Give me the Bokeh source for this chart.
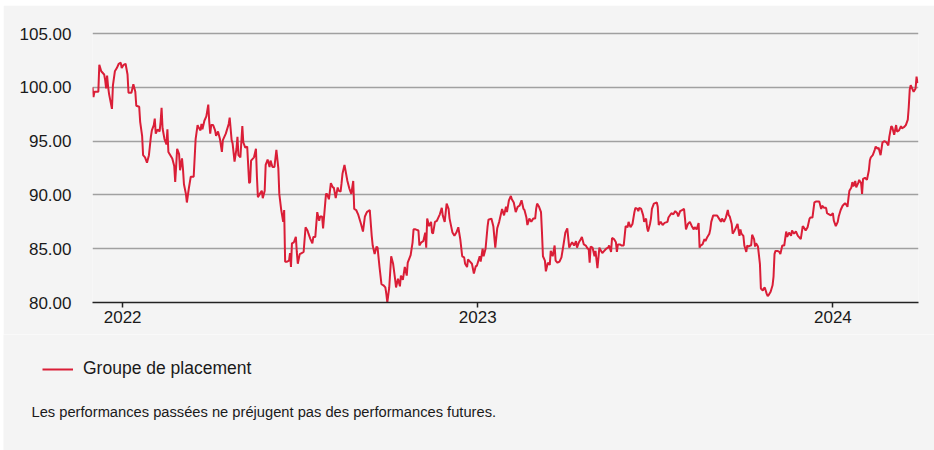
import pandas as pd
from bokeh.plotting import figure
from bokeh.layouts import column, row
from bokeh.models import (FixedTicker, PrintfTickFormatter, Range1d, Legend, LegendItem,
                          Label, DatetimeTickFormatter, ColumnDataSource, Spacer)
from bokeh.embed import file_html
from bokeh.resources import INLINE

START = "2021-12-01"
END = "2024-03-29"
SERIES_NAME = "Groupe de placement"
FOOTNOTE = "Les performances passées ne préjugent pas des performances futures."
y_ticks = [80, 85, 90, 95, 100, 105]
x_tick_years = ["2022", "2023", "2024"]

# days since START, and index value
days = [0, 1, 2, 6, 7, 9, 12, 13, 14, 15, 16, 17, 20, 21, 23, 25, 27, 29, 30, 32, 34, 36, 37, 40, 42, 44, 45, 48, 49, 51,
        52, 54, 56, 58, 60, 61, 63, 64, 65, 67, 69, 70, 71, 72, 74, 76, 77, 78, 80, 82, 84, 85, 86, 87, 89, 90, 92, 93, 94, 96,
        97, 99, 101, 104, 106, 108, 109, 111, 112, 113, 115, 117, 119, 120, 121, 122, 124, 126, 127, 129, 131, 133, 134, 137, 140, 141, 143, 144, 146, 148,
        149, 150, 152, 154, 155, 157,
        159, 161, 162, 163, 166, 168, 169, 170, 172, 174, 175, 177, 178, 180, 182, 183, 185, 187, 189, 191, 192, 194, 196, 197, 198, 200, 202, 203, 204, 205,
        207, 209, 210, 211, 213, 215, 217, 219, 221, 222, 224, 226, 227, 229, 231, 233, 234, 236, 237, 240, 241, 243, 245, 247, 248, 250, 252, 253, 255, 256,
        257, 259, 260, 262, 264, 266, 268, 269, 271, 273, 276, 278, 280, 282, 285, 287, 288, 290, 292, 293, 295, 297, 299, 301, 302, 303, 305, 307, 309, 311,
        312, 314, 316, 317, 319, 321,
        323, 324, 327, 329, 330, 332, 335, 336, 338, 340, 342, 343, 344, 346, 348, 349, 350, 352, 354, 355, 357, 359, 360, 362, 364, 366, 367, 370, 372, 374,
        376, 378, 380, 382, 383, 385, 386, 388, 390, 392, 394, 395, 398, 399, 401, 402, 404, 406, 407, 410, 412, 414, 416, 418, 419, 421, 423, 425, 426, 428,
        430, 431, 433, 435, 437, 439, 441, 443, 444, 446, 447, 449, 451, 453, 455, 456, 457, 459, 461, 462, 463, 465, 466, 468, 470, 471, 473, 475, 476, 478,
        480, 482, 484, 486, 488,
        490, 491, 493, 495, 497, 498, 500, 502, 503, 505, 507, 509, 510, 511, 512, 514, 516, 517, 519, 521, 522, 524, 526, 528, 530, 531, 533, 534, 536, 538,
        539, 540, 542, 544, 546, 548, 550, 551, 553, 555, 557, 558, 560, 561, 562, 564, 566, 567, 569, 570, 571, 573, 574, 575, 577, 580, 581, 582, 584, 586,
        588, 591, 592, 595, 597, 599, 601, 602, 604, 606, 608, 609, 610, 612, 614, 616, 618, 619, 621, 623, 624, 625, 627, 629, 630, 632, 634, 635, 636, 638,
        640, 642, 644, 646, 647, 649, 651,
        653, 654, 655, 657, 658, 660, 661, 663, 665, 666, 667, 669, 670, 672, 673, 674, 676, 677, 678, 680, 681, 682, 684, 686, 687, 689, 690, 691, 693, 694,
        695, 697, 699, 700, 701, 702, 704, 706, 707, 709, 711, 713, 714, 716, 718, 719, 721, 723, 725, 726, 728, 730, 731, 733, 735, 737, 738, 740, 742, 744,
        747, 749, 750, 752, 754, 755, 757, 759, 761, 762, 764, 766, 767, 769, 771, 773, 774, 776, 777, 778, 780, 781, 782, 784, 785, 787, 788, 790, 791, 792,
        794, 796, 798, 799, 800, 802, 804, 805, 807, 808, 810, 812, 814, 816, 818, 819, 821, 822, 824, 826, 827, 829, 831, 832, 834, 836, 838, 839, 840, 841,
        843, 844, 846, 847, 848]

values = [100.0, 99.1, 99.6, 99.6, 102.1, 101.5, 101.2, 100.7, 99.9, 101.1, 100.1, 99.4, 98.0, 100.2, 101.5, 101.8, 102.2, 102.3, 101.8, 102.1, 102.2, 101.2, 99.5, 99.5, 100.3, 99.6, 98.3, 98.2, 96.8, 95.5,
          93.7, 93.5, 93.0, 93.7, 95.4, 96.0, 96.5, 97.1, 95.7, 96.1, 95.9, 96.8, 98.1, 96.2, 95.2, 94.7, 96.1, 94.0, 93.7, 93.4, 92.7, 91.2, 92.7, 94.3, 93.8, 92.3, 93.4, 92.4, 91.0, 90.1,
          89.3, 90.6, 91.7, 91.7, 95.2, 96.5, 96.3, 96.0, 96.6, 96.1, 96.9, 97.3, 98.4, 96.8, 95.7, 96.5, 96.5, 96.0, 95.5, 95.9, 95.2, 94.0, 95.1, 95.7, 96.6, 97.2, 95.1, 94.8, 93.1, 94.3,
          95.4, 93.7, 93.5, 96.4, 94.9, 94.4,
          94.5, 91.1, 91.2, 93.2, 93.5, 94.3, 91.7, 89.8, 90.1, 90.4, 89.7, 90.4, 92.8, 93.3, 92.6, 93.2, 92.6, 92.6, 94.2, 92.5, 90.1, 88.6, 87.5, 88.6, 83.8, 83.8, 83.9, 84.6, 83.3, 85.5,
          85.6, 86.1, 84.7, 83.6, 84.5, 84.6, 84.7, 87.0, 86.7, 86.4, 85.9, 85.5, 86.1, 86.1, 88.4, 87.6, 88.0, 88.0, 86.9, 90.1, 90.1, 89.6, 91.1, 90.7, 90.7, 89.7, 90.7, 90.4, 90.3, 91.1,
          92.0, 92.8, 92.3, 91.3, 90.6, 90.1, 91.3, 88.7, 88.6, 88.2, 87.3, 86.6, 88.0, 88.4, 88.6, 86.2, 85.3, 84.5, 85.2, 85.1, 83.3, 81.7, 81.6, 81.4, 80.8, 80.0, 81.4, 84.3, 83.6, 82.2,
          81.4, 82.2, 81.5, 82.5, 82.1, 83.3,
          82.5, 83.7, 84.4, 85.6, 86.8, 86.8, 86.7, 85.3, 85.6, 85.7, 86.5, 85.1, 87.8, 87.1, 87.5, 86.5, 86.4, 87.5, 87.6, 87.8, 88.2, 88.8, 88.1, 87.5, 89.2, 88.7, 87.8, 86.5, 86.2, 86.5,
          87.0, 85.9, 84.3, 84.2, 83.6, 83.3, 84.0, 83.8, 83.6, 82.7, 83.4, 83.4, 84.3, 83.8, 85.0, 84.3, 85.0, 87.0, 87.7, 87.8, 87.1, 85.1, 86.9, 87.5, 87.9, 88.7, 88.1, 88.9, 88.4, 89.5,
          89.9, 89.6, 89.3, 88.4, 88.9, 89.0, 89.5, 88.7, 88.6, 87.9, 87.2, 87.8, 87.5, 87.8, 87.8, 88.7, 89.2, 88.9, 88.4, 86.5, 84.3, 83.9, 82.9, 83.7, 83.5, 84.8, 84.3, 85.3, 83.9, 83.7,
          83.8, 84.2, 85.3, 86.5, 86.9,
          85.1, 85.3, 85.6, 85.3, 85.7, 85.1, 85.6, 85.9, 86.1, 85.4, 85.3, 85.0, 85.0, 83.7, 85.2, 85.1, 84.3, 84.8, 83.2, 85.1, 84.9, 84.6, 84.8, 85.0, 85.1, 85.3, 84.7, 86.0, 85.9, 85.6,
          84.7, 85.4, 85.4, 85.3, 85.3, 87.1, 87.0, 87.5, 87.0, 87.3, 88.4, 88.8, 88.7, 88.5, 88.8, 88.7, 88.1, 87.5, 87.8, 87.0, 86.6, 87.3, 87.8, 88.7, 89.2, 89.3, 88.9, 87.2, 87.5, 87.2,
          87.4, 87.5, 87.9, 88.3, 88.2, 88.5, 88.3, 88.0, 88.5, 88.6, 88.7, 87.8, 86.8, 87.3, 87.5, 87.1, 86.8, 87.0, 86.8, 87.4, 85.1, 85.3, 85.4, 85.9, 85.7, 86.1, 86.4, 86.8, 87.5, 88.1,
          88.1, 88.1, 87.8, 87.5, 87.8, 87.5, 87.9,
          88.6, 88.1, 88.0, 87.3, 86.4, 86.7, 86.9, 87.3, 86.2, 86.8, 86.4, 86.2, 85.3, 84.7, 85.3, 85.2, 85.3, 85.3, 86.3, 85.9, 85.2, 85.5, 85.2, 83.6, 81.3, 81.1, 81.3, 81.4, 80.8, 80.6,
          80.7, 81.0, 81.6, 82.4, 84.5, 84.8, 84.8, 84.7, 84.5, 85.3, 85.3, 86.6, 86.1, 86.5, 86.2, 86.7, 86.4, 86.6, 86.2, 86.1, 85.9, 87.1, 87.0, 86.7, 87.0, 87.8, 87.9, 87.9, 89.3, 89.4,
          89.4, 88.7, 89.0, 88.8, 88.8, 88.3, 88.2, 88.1, 88.3, 87.6, 87.1, 87.5, 88.0, 88.6, 89.0, 89.2, 89.2, 88.9, 89.7, 90.4, 90.7, 91.2, 90.8, 91.3, 90.7, 91.1, 91.4, 91.1, 90.1, 91.5,
          91.6, 91.4, 92.3, 93.2, 93.5, 93.7, 94.2, 94.5, 94.3, 94.4, 93.7, 94.9, 95.0, 94.9, 94.6, 95.4, 96.4, 96.3, 95.6, 96.5, 95.9, 96.0, 96.4, 96.2, 96.3, 96.5, 97.0, 98.2, 99.8, 100.2,
          99.8, 99.6, 99.9, 101.0, 100.4]

BG = "#f4f4f4"
RED = "#da1e37"
TXT = "#1a1a1a"
FONT = "Liberation Sans"
W = 931

dates = pd.Timestamp(START) + pd.to_timedelta(days, unit="D")
source = ColumnDataSource(dict(date=dates, value=values))

p = figure(width=W, height=329, x_axis_type="datetime", output_backend="svg", toolbar_location=None,
           x_range=Range1d(pd.Timestamp(START), pd.Timestamp(END)), y_range=Range1d(80, 105.2),
           min_border_left=89, min_border_right=16, min_border_top=26, min_border_bottom=32,
           background_fill_color=BG, border_fill_color=BG, outline_line_color=None)
p.frame_align = False

r = p.line(x="date", y="value", source=source, line_color=RED, line_width=2)

# grids
p.xgrid.visible = False
p.ygrid.ticker = FixedTicker(ticks=y_ticks)
p.ygrid.grid_line_color = "#a0a0a0"
p.ygrid.grid_line_width = 1.5

# y axis
p.yaxis.ticker = FixedTicker(ticks=y_ticks)
p.yaxis.formatter = PrintfTickFormatter(format="%.2f")
p.yaxis.axis_line_color = None
p.yaxis.major_tick_line_color = None
p.yaxis.minor_tick_line_color = None
p.yaxis.major_label_standoff = 15
p.yaxis.major_label_text_font_size = "17px"
p.yaxis.major_label_text_font = FONT
p.yaxis.major_label_text_color = TXT

# x axis
year_ticks = [pd.Timestamp(f"{y}-01-01").value // 10**6 for y in x_tick_years]
p.xaxis.ticker = FixedTicker(ticks=year_ticks)
p.xaxis.formatter = DatetimeTickFormatter(years="%Y", months="%Y", days="%Y", hours="%Y",
                                          hourmin="%Y", minutes="%Y", minsec="%Y", seconds="%Y",
                                          milliseconds="%Y", microseconds="%Y")
p.xaxis.axis_line_color = "#222222"
p.xaxis.axis_line_width = 1.5
p.xaxis.major_tick_line_color = "#222222"
p.xaxis.major_tick_line_width = 1.5
p.xaxis.major_tick_out = 5
p.xaxis.major_tick_in = 0
p.xaxis.minor_tick_line_color = None
p.xaxis.major_label_standoff = 3
p.xaxis.major_label_text_font_size = "17px"
p.xaxis.major_label_text_font = FONT
p.xaxis.major_label_text_color = TXT

# lower panel: legend and footnote (screen-unit frame)
H2 = 116
q = figure(width=W, height=H2, output_backend="svg", toolbar_location=None,
           x_range=Range1d(0, W), y_range=Range1d(0, H2),
           x_axis_location=None, y_axis_location=None,
           min_border_left=0, min_border_right=0, min_border_top=0, min_border_bottom=0,
           background_fill_color=BG, border_fill_color=BG, outline_line_color=None)
q.frame_align = False
q.xgrid.visible = False
q.ygrid.visible = False
# same series, used only for the legend swatch (falls outside this panel's ranges)
swatch = q.line(x="date", y="value", source=source, line_color=RED, line_width=2)

legend = Legend(items=[LegendItem(label=SERIES_NAME, renderers=[swatch])], location=(39, 71),
                background_fill_alpha=0, border_line_color=None, padding=0, margin=0,
                glyph_width=31, glyph_height=20, label_height=20, label_standoff=10,
                label_text_font_size="17.5px", label_text_font=FONT, label_text_color=TXT)
q.add_layout(legend)

note = Label(x=28, y=39, x_units="screen", y_units="screen", text=FOOTNOTE,
             text_baseline="middle", text_font_size="14.7px", text_font=FONT, text_color=TXT)
q.add_layout(note)

layout = row(Spacer(width=3, height=450), column(Spacer(width=W, height=5), p, q))

open("out.html", "w").write(file_html(layout, INLINE))
